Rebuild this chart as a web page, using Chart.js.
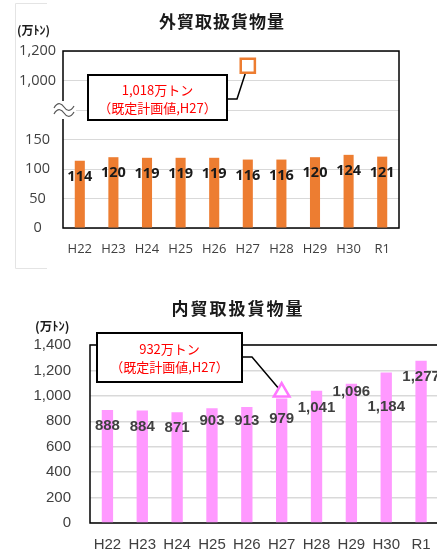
<!DOCTYPE html>
<html>
<head>
<meta charset="utf-8">
<script src="https://cdn.jsdelivr.net/npm/chart.js@4"></script>
<style>
    html, body { margin: 0; padding: 0; background: #fff; overflow: hidden; width: 437px; height: 551px; }
    canvas { position: absolute; left: 0; }
    #foreign { top: 0; }
    #domestic { top: 285px; }
</style>
</head>
<body>
<canvas id="foreign" width="437" height="275"></canvas>
<canvas id="domestic" width="450" height="266"></canvas>
<script>
// Fiscal years
const years = ['H22', 'H23', 'H24', 'H25', 'H26', 'H27', 'H28', 'H29', 'H30', 'R1'];
// 外貿 / 内貿 handled cargo (万トン)
const foreignTrade = [114, 120, 119, 119, 119, 116, 116, 120, 124, 121];
const domesticTrade = [888, 884, 871, 903, 913, 979, 1041, 1096, 1184, 1277];
// Plan values (text) and where their markers sit on the axis
const foreignPlan = 1018;
const domesticPlan = 932;
const foreignPlanMarker = 1100;
const domesticPlanMarker = 1030;
const planYear = 'H27';
// Broken axis tick labels for the foreign chart
const foreignTickLabels = ['0', '50', '100', '150', '', '1,000', '1,200'];

const fmt = v => v.toLocaleString('en-US');
// 0..200 on the lower part, 1000..1200 on the upper part
const brokenAxis = v => v <= 200 ? v / 50 : 5 + (v - 1000) / 200;
const planIndex = years.indexOf(planYear);
const markerData = v => years.map((_, i) => i === planIndex ? v : null);

function drawFrame(ctx, a) {
    ctx.strokeStyle = '#000';
    ctx.lineWidth = 1.5;
    ctx.strokeRect(a.left, a.top, a.right - a.left, a.bottom - a.top);
}

function drawCallout(ctx, box, lines, elbow, target) {
    ctx.strokeStyle = '#000';
    ctx.lineWidth = 1.5;
    ctx.beginPath();
    ctx.moveTo(box.x + box.w, elbow.y);
    ctx.lineTo(elbow.x, elbow.y);
    ctx.lineTo(target.x, target.y);
    ctx.stroke();
    ctx.fillStyle = '#fff';
    ctx.fillRect(box.x, box.y, box.w, box.h);
    ctx.lineWidth = 2;
    ctx.strokeRect(box.x, box.y, box.w, box.h);
    ctx.fillStyle = '#ff0000';
    ctx.font = '13px "Noto Sans CJK JP", sans-serif';
    ctx.textAlign = 'center';
    ctx.textBaseline = 'middle';
    lines.forEach(t => ctx.fillText(t.text, box.x + box.w / 2, t.y));
}

function drawHeading(ctx, title, tx, ty, spacing, unitX, unitY, unitSize) {
    ctx.fillStyle = '#1a1a1a';
    ctx.textBaseline = 'middle';
    ctx.textAlign = 'center';
    ctx.letterSpacing = spacing;
    ctx.font = 'bold 17px "Noto Sans CJK JP", sans-serif';
    ctx.fillText(title, tx, ty);
    ctx.letterSpacing = '0px';
    ctx.textAlign = 'left';
    ctx.font = 'bold ' + unitSize + 'px "Noto Sans CJK JP", sans-serif';
    ctx.fillText('(万ﾄﾝ)', unitX, unitY);
}

const foreignDecor = {
    id: 'foreignDecor',
    beforeDatasetsDraw(chart) {
        const { ctx, chartArea: a, scales: { x, y } } = chart;
        ctx.save();
        // faint outer frame of the original picture
        ctx.strokeStyle = '#e4e4e4';
        ctx.lineWidth = 1;
        ctx.beginPath();
        ctx.moveTo(47, 3.5); ctx.lineTo(15.5, 3.5); ctx.lineTo(15.5, 268.5); ctx.lineTo(47, 268.5);
        ctx.stroke();
        drawFrame(ctx, a);
        // axis break mark
        const by = y.getPixelForValue(4);
        ctx.fillStyle = '#fff';
        ctx.fillRect(a.left - 11, by - 9, 24, 18);
        ctx.strokeStyle = '#555';
        ctx.lineWidth = 1.2;
        [-3, 3].forEach(d => {
            const yy = by + d;
            ctx.beginPath();
            ctx.moveTo(a.left - 9, yy + 1);
            ctx.bezierCurveTo(a.left - 5, yy - 6, a.left - 1, yy - 3, a.left + 1, yy);
            ctx.bezierCurveTo(a.left + 3, yy + 3, a.left + 7, yy + 6, a.left + 11, yy - 1);
            ctx.stroke();
        });
        drawCallout(ctx, { x: 88, y: 75, w: 139, h: 45 },
            [{ text: fmt(foreignPlan) + '万トン', y: 90 }, { text: '（既定計画値,H27）', y: 108 }],
            { x: 237, y: 99 },
            { x: x.getPixelForValue(planIndex), y: y.getPixelForValue(brokenAxis(foreignPlanMarker)) });
        ctx.restore();
    },
    afterDatasetsDraw(chart) {
        const { ctx } = chart;
        const meta = chart.getDatasetMeta(1);
        ctx.save();
        ctx.fillStyle = '#1a1a1a';
        ctx.font = 'bold 14.5px "Open Sans", sans-serif';
        ctx.textAlign = 'center';
        ctx.textBaseline = 'middle';
        foreignTrade.forEach((v, i) => {
            const bar = meta.data[i];
            ctx.fillText(String(v), bar.x, bar.y + 16);
        });
        drawHeading(ctx, '外貿取扱貨物量', 222, 22, '1px', 17, 30, 12);
        ctx.restore();
    }
};

const domesticLabelDy = [16, 16, 16, 13, 14, 20, 17, 8, 34, 16];

const domesticDecor = {
    id: 'domesticDecor',
    beforeDatasetsDraw(chart) {
        const { ctx, chartArea: a, scales: { x, y } } = chart;
        ctx.save();
        drawFrame(ctx, a);
        drawCallout(ctx, { x: 97, y: 48, w: 145, h: 49 },
            [{ text: domesticPlan + '万トン', y: 64 }, { text: '（既定計画値,H27）', y: 82 }],
            { x: 252, y: 72 },
            { x: x.getPixelForValue(planIndex), y: y.getPixelForValue(domesticPlanMarker) });
        ctx.restore();
    },
    afterDatasetsDraw(chart) {
        const { ctx } = chart;
        const meta = chart.getDatasetMeta(1);
        ctx.save();
        ctx.fillStyle = '#404040';
        ctx.font = 'bold 15px "Liberation Sans", Arial, sans-serif';
        ctx.textAlign = 'center';
        ctx.textBaseline = 'middle';
        domesticTrade.forEach((v, i) => {
            const bar = meta.data[i];
            ctx.fillText(fmt(v), bar.x, bar.y + domesticLabelDy[i]);
        });
        drawHeading(ctx, '内貿取扱貨物量', 238, 24, '2px', 35, 41, 12.5);
        ctx.restore();
    }
};

const baseOptions = (pad) => ({
    responsive: false,
    animation: false,
    events: [],
    layout: { padding: pad },
    plugins: { legend: { display: false }, tooltip: { enabled: false }, title: { display: false } }
});

new Chart(document.getElementById('foreign'), {
    type: 'bar',
    data: {
        labels: years,
        datasets: [
            {
                type: 'line',
                data: markerData(brokenAxis(foreignPlanMarker)),
                showLine: false,
                pointStyle: 'rect',
                pointRadius: 10,
                pointBorderWidth: 2.5,
                pointBorderColor: '#ED7D31',
                pointBackgroundColor: '#fff'
            },
            {
                data: foreignTrade.map(brokenAxis),
                backgroundColor: '#ED7D31',
                categoryPercentage: 0.3,
                barPercentage: 1
            }
        ]
    },
    options: {
        ...baseOptions({ top: 51, right: 38, left: 0, bottom: 0 }),
        scales: {
            x: {
                grid: { display: false, drawTicks: false },
                border: { display: false },
                ticks: { color: '#404040', font: { family: '"Open Sans"', size: 13 }, padding: 13 },
                afterFit(s) { s.height = 47; }
            },
            y: {
                min: 0,
                max: 6,
                grid: { color: '#d9d9d9', lineWidth: 1, drawTicks: false },
                border: { display: false },
                ticks: {
                    stepSize: 1,
                    autoSkip: false,
                    callback: v => foreignTickLabels[v],
                    color: '#404040',
                    font: { family: '"Open Sans"', size: 14.5 },
                    padding: 7,
                    crossAlign: 'center'
                },
                afterFit(s) { s.width = 63; }
            }
        }
    },
    plugins: [foreignDecor]
});

new Chart(document.getElementById('domestic'), {
    type: 'bar',
    data: {
        labels: years,
        datasets: [
            {
                type: 'line',
                data: markerData(domesticPlanMarker),
                showLine: false,
                pointStyle: 'triangle',
                pointRadius: 9,
                pointBorderWidth: 2.5,
                pointBorderColor: '#ff77ff',
                pointBackgroundColor: '#fff'
            },
            {
                data: domesticTrade,
                backgroundColor: '#ff99ff',
                categoryPercentage: 0.325,
                barPercentage: 1
            }
        ]
    },
    options: {
        ...baseOptions({ top: 60, right: 10.5, left: 0, bottom: 0 }),
        scales: {
            x: {
                grid: { display: false, drawTicks: false },
                border: { display: false },
                ticks: { color: '#404040', font: { family: '"Liberation Sans", Arial', size: 15 }, padding: 13 },
                afterFit(s) { s.height = 27; }
            },
            y: {
                min: 0,
                max: 1400,
                grid: { color: '#d9d9d9', lineWidth: 1.5, drawTicks: false },
                border: { display: false },
                ticks: {
                    stepSize: 200,
                    callback: v => fmt(v),
                    color: '#404040',
                    font: { family: '"Liberation Sans", Arial', size: 15 },
                    padding: 19
                },
                afterFit(s) { s.width = 90; }
            }
        }
    },
    plugins: [domesticDecor]
});
</script>
</body>
</html>
